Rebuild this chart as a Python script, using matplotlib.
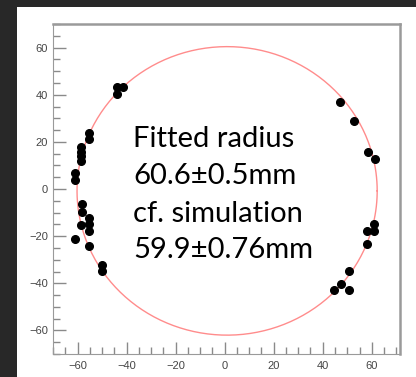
import numpy as np
import matplotlib.pyplot as plt
from matplotlib.patches import Rectangle
from matplotlib.ticker import MultipleLocator

# measured hit positions (mm)
x_pts = [-44.1, -41.4, -44.1, -55.4, -55.4, -58.4, -58.4, -58.4, -58.4,
         -61.1, -61.1, -58.1, -58.1, -58.4, -55.4, -55.4, -55.4, -55.4,
         -61.1, -50.0, -50.0,
         47.2, 52.9, 58.5, 61.5, 60.9, 60.9, 58.2, 58.2,
         50.5, 47.6, 44.7, 50.5]
y_pts = [43.2, 43.2, 40.2, 23.7, 21.1, 18.0, 15.9, 14.0, 12.0,
         6.7, 3.8, -6.4, -9.6, -15.3, -12.2, -15.0, -18.0, -24.1,
         -21.0, -32.2, -34.8,
         37.1, 28.9, 15.9, 12.7, -14.9, -17.7, -17.7, -23.5,
         -34.7, -40.1, -42.9, -42.9]

# fitted circle
cx, cy, r = 1.0, -0.8, 61.2

labels = ['Fitted radius', '60.6\u00b10.5mm', 'cf. simulation', '59.9\u00b10.76mm']

fig = plt.figure(figsize=(4.16, 3.77), dpi=100)
fig.patch.set_facecolor('#282828')
fig.patches.append(Rectangle((17/416, 0), 1, 1 - 7/377, transform=fig.transFigure,
                             facecolor='white', edgecolor='none', zorder=-1))

ax = fig.add_axes([53/416, 1 - 354/377, 347/416, 330/377])
ax.set_zorder(1)
ax.set_xlim(-70, 71.5)
ax.set_ylim(-70, 70)

t = np.linspace(0, 2*np.pi, 400)
ax.plot(cx + r*np.cos(t), cy + r*np.sin(t), color='#ff8c8c', lw=1)
ax.plot(x_pts, y_pts, 'o', color='black', ms=5.5)

ax.xaxis.set_major_locator(MultipleLocator(20))
ax.xaxis.set_minor_locator(MultipleLocator(5))
ax.yaxis.set_major_locator(MultipleLocator(20))
ax.yaxis.set_minor_locator(MultipleLocator(5))
ax.tick_params(which='both', direction='in', color='#8a8a8a', labelsize=8,
               labelcolor='#454545', top=False, right=False)
ax.tick_params(which='major', length=9, width=1)
ax.tick_params(which='minor', length=5, width=1)
ax.tick_params(axis='x', pad=5)
for lab in ax.get_xticklabels() + ax.get_yticklabels():
    lab.set_family('Liberation Sans')
for s in ax.spines.values():
    s.set_color('#9a9a9a')
ax.spines['top'].set_linewidth(1.8)
ax.spines['right'].set_linewidth(1.8)

ys = [147.3, 184.3, 221.7, 258.5]
for lab, yp in zip(labels, ys):
    fig.text(133/416, 1 - yp/377, lab, fontsize=21, family='Lato',
             va='baseline', ha='left', color='black', zorder=5)

fig.savefig('out.png', dpi=100, facecolor=fig.get_facecolor())
